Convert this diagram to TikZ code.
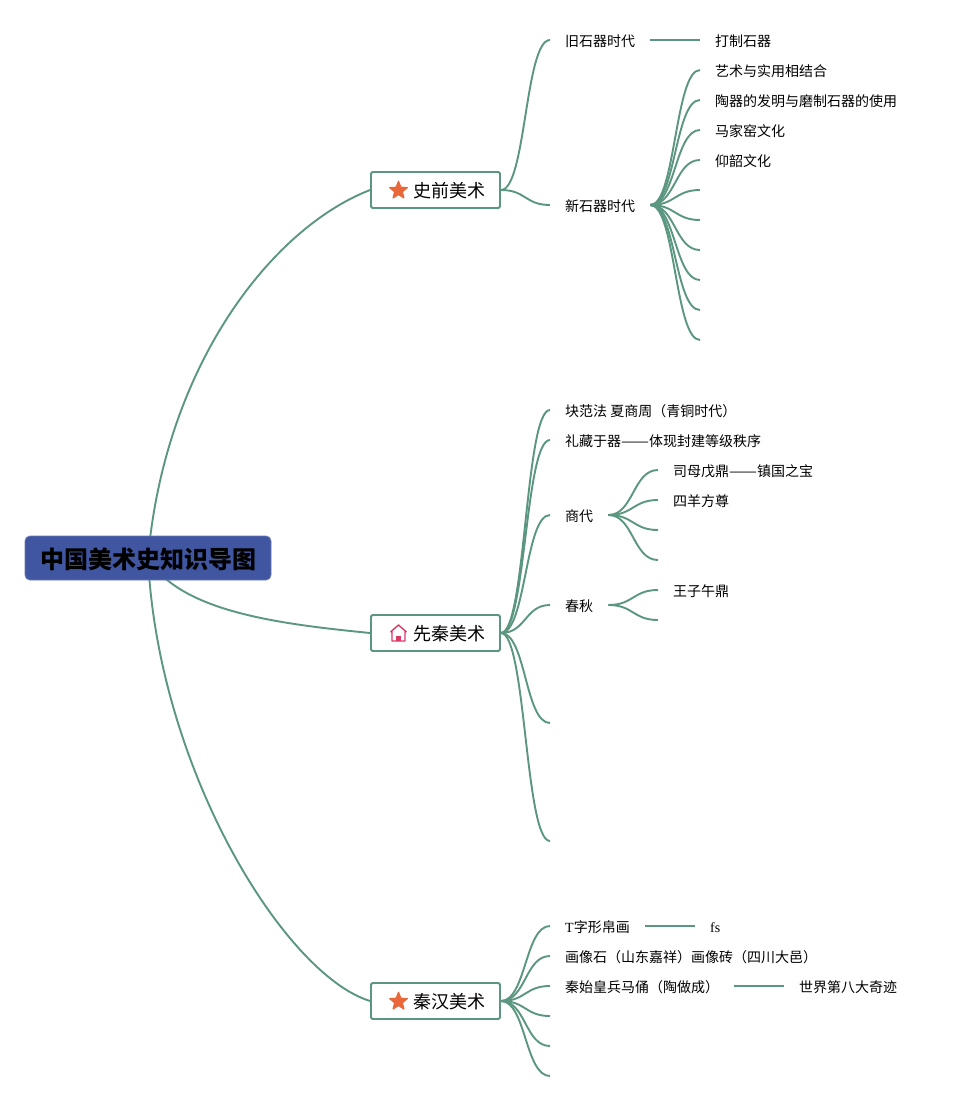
\documentclass[tikz,border=0pt]{standalone}
\usepackage{fontspec}
\setmainfont{Noto Sans CJK SC}
\newfontfamily\latn{Liberation Serif}
\usetikzlibrary{calc,backgrounds,shapes.geometric}
\definecolor{linkc}{HTML}{5B9680}
\definecolor{rootc}{HTML}{4056A1}
\definecolor{starc}{HTML}{E8683A}
\definecolor{homec}{HTML}{D93A68}
\newcommand{\lnk}[3]{\draw[link] (#1) .. controls ($(#1)+(#3,0)$) and ($(#2)+(-#3,0)$) .. (#2);}
\newcommand{\longdash}{{\addfontfeature{FakeStretch=1.19}——}}
\tikzset{
  x=1pt,y=-1pt,
  link/.style={draw=linkc,line width=1.9pt},
  rootbox/.style={draw=rootc!80!white,fill=rootc,rounded corners=5pt,line width=0.8pt,minimum width=246pt,minimum height=44pt,inner sep=0pt,text height=20pt,text depth=0pt,font=\fontsize{24}{24}\selectfont\bfseries,text=black},
  topic/.style={draw=linkc,fill=white,rounded corners=1.5pt,line width=1.9pt,minimum width=129pt,minimum height=36pt,inner sep=0pt,text height=16pt,text depth=1pt,font=\fontsize{18}{18}\selectfont,text=black},
  leaf/.style={anchor=west,inner xsep=15pt,inner ysep=0pt,text height=14pt,text depth=2pt,font=\fontsize{14}{14}\selectfont,text=black},
  staricon/.style={star,star points=5,star point ratio=2.3,fill=starc,draw=starc,line join=round,line width=1.2pt,minimum size=18.5pt,inner sep=0pt},
}
\begin{document}
\begin{tikzpicture}
\useasboundingbox (0,0) rectangle (957,1101);
\begin{scope}[on background layer]
\fill[white] (0,0) rectangle (957,1101);
\end{scope}
% root and topics
\node[rootbox] (root) at (148,558) {\hspace*{1.5pt}中国美术史知识导图};
\node[topic] (a) at (435.5,190) {\hspace*{27pt}史前美术};
\node[topic] (b) at (435.5,633) {\hspace*{27pt}先秦美术};
\node[topic] (c) at (435.5,1001) {\hspace*{27pt}秦汉美术};
\node[staricon] (stara) at (398.5,190.5) {};
\node[staricon] (starc1) at (398.5,1001.5) {};
\draw[homec,line width=1.4pt,line join=round] (390.5,632) -- (398.5,625) -- (406.5,632) (392,630.5) -- (392,641) -- (405,641) -- (405,630.5);
\fill[homec] (396,641) -- (396,635.5) -- (401,635.5) -- (401,641) -- cycle;
% level 2: prehistoric
\node[leaf] (a1) at (550,40) {旧石器时代};
\node[leaf] (a2) at (550,205) {新石器时代};
\node[leaf] (a11) at (700,40) {打制石器};
\node[leaf] (a21) at (700,70) {艺术与实用相结合};
\node[leaf] (a22) at (700,100) {陶器的发明与磨制石器的使用};
\node[leaf] (a23) at (700,130) {马家窑文化};
\node[leaf] (a24) at (700,160) {仰韶文化};
\coordinate (a25) at (700,190);
\coordinate (a26) at (700,220);
\coordinate (a27) at (700,250);
\coordinate (a28) at (700,280);
\coordinate (a29) at (700,310);
\coordinate (a210) at (700,340);
% level 2: pre-Qin
\node[leaf] (b1) at (550,410) {块范法 夏商周（青铜时代）};
\node[leaf] (b2) at (550,440) {礼藏于器\longdash 体现封建等级秩序};
\node[leaf] (b3) at (550,515) {商代};
\node[leaf] (b4) at (550,605) {春秋};
\coordinate (b5) at (550,723);
\coordinate (b6) at (550,841);
\node[leaf] (b31) at (658,470) {司母戊鼎\longdash 镇国之宝};
\node[leaf] (b32) at (658,500) {四羊方尊};
\coordinate (b33) at (658,530);
\coordinate (b34) at (658,560);
\node[leaf] (b41) at (658,590) {王子午鼎};
\coordinate (b42) at (658,620);
% level 2: Qin-Han
\node[leaf] (c1) at (550,926) {{\latn T}字形帛画};
\node[leaf] (c2) at (550,956) {画像石（山东嘉祥）画像砖（四川大邑）};
\node[leaf] (c3) at (550,986) {秦始皇兵马俑（陶做成）};
\coordinate (c4) at (550,1016);
\coordinate (c5) at (550,1046);
\coordinate (c6) at (550,1076);
\node[leaf] (c11) at (695,926) {\latn fs};
\node[leaf] (c31) at (784,986) {世界第八大奇迹};
% connectors
\begin{scope}[on background layer]
\draw[link] (root.center) .. controls (165,365) and (272,228) .. (a.west);
\draw[link] (root.center) .. controls (180,612) and (280,624) .. (b.west);
\draw[link] (root.center) .. controls (158,770) and (285,975) .. (c.west);
\end{scope}
\foreach \t in {a1,a2}{\lnk{a.east}{\t.west}{25}}
\draw[link] (a1.east) -- (a11.west);
\foreach \t in {a21.west,a22.west,a23.west,a24.west,a25,a26,a27,a28,a29,a210}{\lnk{a2.east}{\t}{25}}
\foreach \t in {b1.west,b2.west,b3.west,b4.west,b5,b6}{\lnk{b.east}{\t}{25}}
\foreach \t in {b31.west,b32.west,b33,b34}{\lnk{b3.east}{\t}{25}}
\foreach \t in {b41.west,b42}{\lnk{b4.east}{\t}{25}}
\foreach \t in {c1.west,c2.west,c3.west,c4,c5,c6}{\lnk{c.east}{\t}{25}}
\draw[link] (c1.east) -- (c11.west);
\draw[link] (c3.east) -- (c31.west);
\end{tikzpicture}
\end{document}
